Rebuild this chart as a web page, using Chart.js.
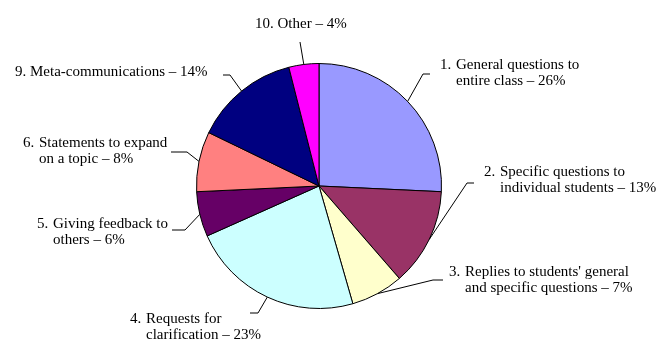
<!DOCTYPE html>
<html>
<head>
<meta charset="utf-8">
<script src="https://cdn.jsdelivr.net/npm/chart.js@4/dist/chart.umd.min.js"></script>
<style>
  html, body { margin: 0; padding: 0; background: #fff; }
  #wrap { width: 660px; height: 352px; position: relative; }
</style>
</head>
<body>
<div id="wrap"><canvas id="pie"></canvas></div>
<script>
// data
const numbers = ['1.', '2.', '3.', '4.', '5.', '6.', '9.', '10.'];
const labelLines = [
    ['General questions to', 'entire class'],
    ['Specific questions to', 'individual students'],
    ["Replies to students' general", 'and specific questions'],
    ['Requests for', 'clarification'],
    ['Giving feedback to', 'others'],
    ['Statements to expand', 'on a topic'],
    ['Meta-communications'],
    ['Other']
];
const values = [26, 13, 7, 23, 6, 8, 14, 4];
const colors = ['#9999FF', '#993366', '#FFFFCC', '#CCFFFF', '#660066', '#FF8080', '#000080', '#FF00FF'];

// label placement: text x / first line y, leader elbow and end
const labelPos = [
    { x: 440, y: 65,  elbow: [423, 74],  end: [430, 74] },
    { x: 484, y: 172, elbow: [467, 183], end: [474, 183] },
    { x: 449, y: 272, elbow: [433, 280], end: [443, 280] },
    { x: 130, y: 319, elbow: [258, 313], end: [250, 313] },
    { x: 37,  y: 224, elbow: [185, 230], end: [172, 230] },
    { x: 23,  y: 143, elbow: [187, 152], end: [171, 152] },
    { x: 15,  y: 72,  elbow: [230, 75],  end: [223, 75] },
    { x: 255, y: 24,  elbow: [300, 42],  end: [300, 42] }
];

const FONT = '15px "Liberation Serif", "Times New Roman", serif';

const leaderLabels = {
    id: 'leaderLabels',
    afterDraw(chart) {
        const ctx = chart.ctx;
        const meta = chart.getDatasetMeta(0);
        ctx.save();
        ctx.font = FONT;
        ctx.fillStyle = '#000';
        ctx.strokeStyle = '#000';
        ctx.lineWidth = 1;
        ctx.textBaseline = 'middle';
        meta.data.forEach((arc, i) => {
            const p = arc.getProps(['x', 'y', 'startAngle', 'endAngle', 'outerRadius'], true);
            const mid = (p.startAngle + p.endAngle) / 2;
            const sx = p.x + Math.cos(mid) * p.outerRadius;
            const sy = p.y + Math.sin(mid) * p.outerRadius;
            const pos = labelPos[i];
            ctx.beginPath();
            ctx.moveTo(sx, sy);
            ctx.lineTo(pos.elbow[0], pos.elbow[1]);
            ctx.lineTo(pos.end[0], pos.end[1]);
            ctx.stroke();

            const lines = labelLines[i].slice();
            lines[lines.length - 1] += ' \u2013 ' + values[i] + '%';
            if (lines.length == 1) {
                ctx.fillText(numbers[i] + ' ' + lines[0], pos.x, pos.y);
            } else {
                ctx.fillText(numbers[i], pos.x, pos.y);
                const indent = 16;
                lines.forEach((t, k) => {
                    ctx.fillText(t, pos.x + indent, pos.y + k * 16);
                });
            }
        });
        ctx.restore();
    }
};

const ctx = document.getElementById('pie').getContext('2d');
const chart = new Chart(ctx, {
    type: 'pie',
    data: {
        labels: labelLines.map(l => l.join(' ')),
        datasets: [{
            data: values,
            backgroundColor: colors,
            borderColor: '#000',
            borderWidth: 1
        }]
    },
    options: {
        responsive: true,
        maintainAspectRatio: false,
        animation: false,
        layout: { padding: { left: 196, right: 218, top: 63, bottom: 43 } },
        plugins: {
            legend: { display: false },
            tooltip: { enabled: false }
        }
    },
    plugins: [leaderLabels]
});
</script>
</body>
</html>
